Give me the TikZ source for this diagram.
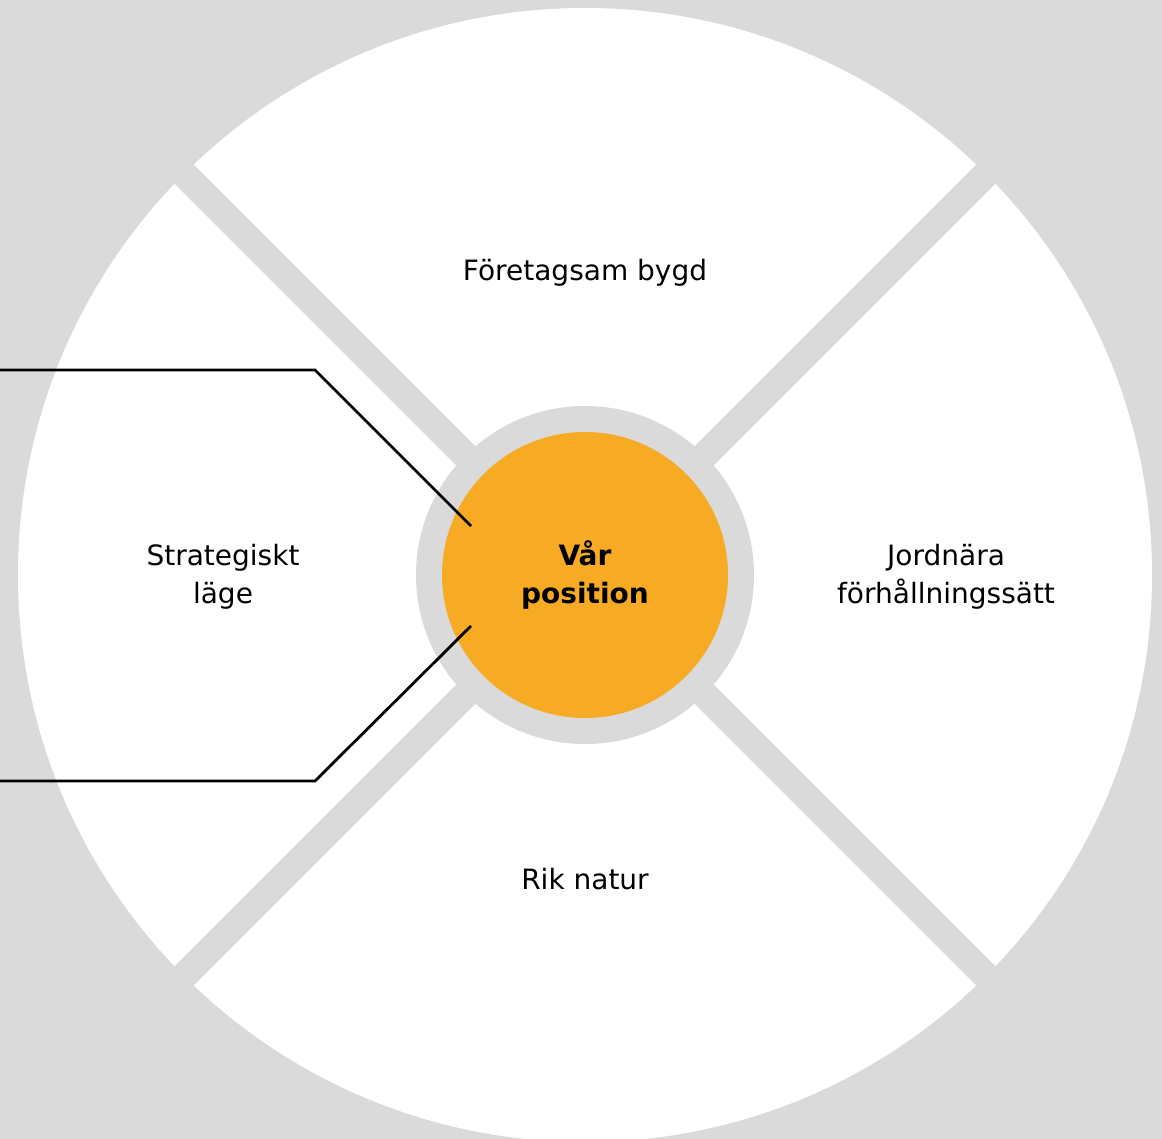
\documentclass[tikz,border=0pt]{standalone}
\usepackage{fontspec}
\setmainfont{DejaVu Sans}
\definecolor{bggrey}{HTML}{DADADA}
\definecolor{posorange}{HTML}{F7AA24}
\tikzset{
  label text/.style={align=center,font=\fontsize{28}{38}\selectfont,inner sep=0pt},
  band/.style={line width=27pt,bggrey},
  link/.style={line width=2.8pt,black}
}
\begin{document}
\begin{tikzpicture}[x=1pt,y=-1pt]
  \useasboundingbox (0,0) rectangle (1162,1139);
  \fill[bggrey] (0,0) rectangle (1162,1139);
  % outer wheel
  \fill[white] (585,575) circle[radius=567pt];
  \draw[band] (0,-10) -- (1170,1160);
  \draw[band] (1170,-10) -- (0,1160);
  % centre
  \fill[bggrey] (585,575) circle[radius=169pt];
  \node[circle,fill=posorange,minimum size=286pt,inner sep=0pt,align=center,
        font=\fontsize{28}{38}\selectfont\bfseries] (pos) at (585,575) {Vår\\position};
  % quadrants
  \node[label text] (top) at (585,273) {Företagsam bygd};
  \node[label text] (left) at (223,577) {Strategiskt\\läge};
  \node[label text] (right) at (946,577) {Jordnära\\förhållningssätt};
  \node[label text] (bottom) at (585,879) {Rik natur};
  % links
  \coordinate (startA) at (0,370);
  \coordinate (bendA) at (315,370);
  \coordinate (tipA) at (471,526);
  \coordinate (startB) at (0,781);
  \coordinate (bendB) at (315,781);
  \coordinate (tipB) at (471,626);
  \draw[link] (startA) -- (bendA) -- (tipA);
  \draw[link] (startB) -- (bendB) -- (tipB);
\end{tikzpicture}
\end{document}
